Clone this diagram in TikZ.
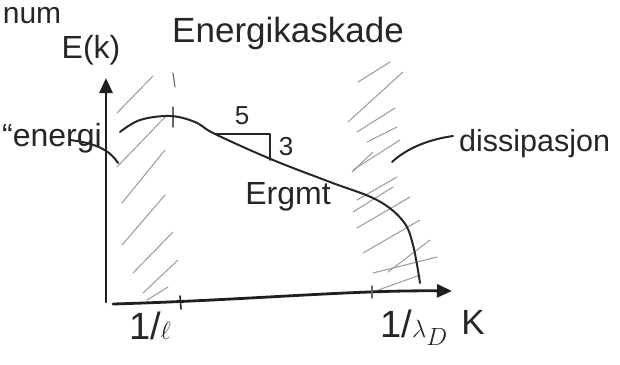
\documentclass[tikz,border=0pt]{standalone}
\usepackage{fontspec}
\setmainfont{Liberation Sans}
\usetikzlibrary{arrows.meta}
\begin{document}
\begin{tikzpicture}[x=1pt,y=-1pt,
  ink/.style={draw=black!85, line width=2pt, line cap=round, line join=round},
  axisline/.style={draw=black!88, line width=2.8pt, line cap=round, -{Triangle[length=15pt,width=13pt]}},
  hatch/.style={draw=black!40, line width=1pt, line cap=round},
  thinmark/.style={draw=black!60, line width=1.1pt, line cap=round},
  lbl/.style={inner sep=0pt, text=black!85, font=\fontsize{32}{34}\selectfont},
  biglbl/.style={lbl, font=\fontsize{35}{37}\selectfont},
  smalllbl/.style={lbl, font=\fontsize{26}{28}\selectfont}]
\useasboundingbox (0,0) rectangle (620,364);

% hatching, left region
\draw[hatch] (117,113) -- (153,76);
\draw[hatch] (117,167) -- (167,115);
\draw[hatch] (122,203) -- (165,150);
\draw[hatch] (122,245) -- (165,195);
\draw[hatch] (133,273) -- (173,232);
\draw[hatch] (143,293) -- (178,260);
\draw[hatch] (147,300) -- (168,287);

% hatching, right region
\draw[hatch] (358,82) -- (390,62);
\draw[hatch] (348,122) -- (403,72);
\draw[hatch] (357,132) -- (395,108);
\draw[hatch] (367,142) -- (397,127);
\draw[hatch] (352,172) -- (373,152);
\draw[hatch] (353,170) -- (400,140);
\draw[hatch] (357,200) -- (397,177);
\draw[hatch] (353,212) -- (393,187);
\draw[hatch] (357,228) -- (410,197);
\draw[hatch] (363,253) -- (420,220);
\draw[hatch] (388,272) -- (430,240);
\draw[hatch] (373,273) -- (437,257);
\draw[hatch] (370,293) -- (420,275);

% boundary dashes at 1/l
\draw[thinmark] (173,73) -- (175,87);
\draw[thinmark] (173,107) -- (173,127);

% axes
\coordinate (O) at (106,302);
\coordinate (Ytop) at (106,78);
\coordinate (Xs) at (113,304);
\coordinate (Xe) at (452,291);
\draw[axisline] (O) -- (Ytop);
\draw[axisline] (Xs) .. controls (250,300) and (350,290) .. (Xe);

% ticks
\coordinate (T1a) at (180,296);
\coordinate (T1b) at (181,309);
\coordinate (T2a) at (372,286);
\coordinate (T2b) at (372,298);
\draw[ink, line width=1.6pt] (T1a) -- (T1b);
\draw[thinmark] (T2a) -- (T2b);

% spectrum curve
\draw[ink] plot[smooth, tension=0.6] coordinates {(120,132) (140,120) (170,116) (195,122) (215,134) (273,160) (330,182) (377,200) (403,221) (413,245) (420,283)};

% slope triangle
\coordinate (S1) at (215,134);
\coordinate (S2) at (270,134);
\coordinate (S3) at (270,160);
\draw[ink, line width=1.6pt] (S1) -- (S2) -- (S3);

% labels
\node[lbl, font=\fontsize{30}{32}\selectfont] (num) at (32,16) {num};
\node[biglbl] (title) at (288,33) {Energikaskade};
\node[lbl] (Ek) at (91,50) {E(k)};
\node[lbl] (energi) at (52,138) {“energi};
\node[lbl, font=\fontsize{30.5}{32}\selectfont, anchor=west] (diss) at (459,144) {dissipasjon};
\node[smalllbl] (five) at (242,116) {5};
\node[smalllbl] (three) at (286,147) {3};
\node[lbl] (treg) at (288,197) {Ergmt};
\node[biglbl, font=\fontsize{38}{40}\selectfont] (linv) at (150,326) {1/$\ell$};
\node[biglbl, font=\fontsize{38}{40}\selectfont] (lam) at (414,328) {1/$\lambda_D$};
\node[biglbl] (K) at (473,322) {K};

% pointers
\coordinate (Ea) at (70,140);
\coordinate (Ep) at (118,163);
\draw[ink] (Ea) .. controls (95,143) and (110,150) .. (Ep);
\coordinate (Da) at (453,136);
\coordinate (Dp) at (392,162);
\draw[ink] (Da) .. controls (425,140) and (405,150) .. (Dp);
\end{tikzpicture}
\end{document}
